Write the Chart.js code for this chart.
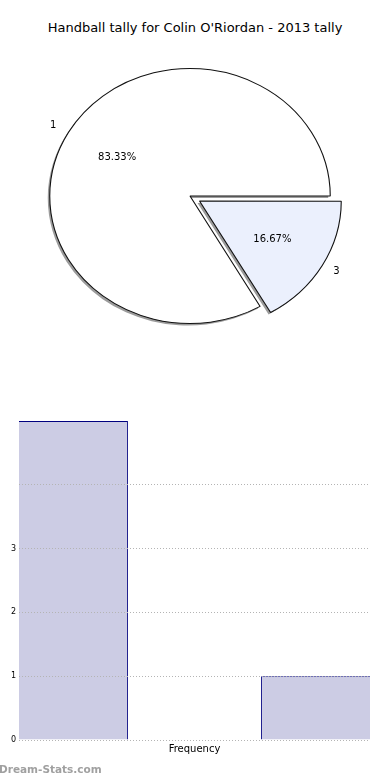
<!DOCTYPE html>
<html>
<head>
<meta charset="utf-8">
<script src="https://cdn.jsdelivr.net/npm/chart.js@4"></script>
<style>
  body { margin: 0; background: #fff; width: 390px; height: 780px; position: relative; overflow: hidden; font-family: "DejaVu Sans", sans-serif; }
  #title { position: absolute; top: 20px; left: 0; width: 390px; text-align: center; font-size: 13px; color: #000; }
  #pieBox { position: absolute; top: 0; left: 0; width: 390px; height: 360px; }
  #barBox { position: absolute; top: 400px; left: 0; width: 390px; height: 365px; }
  #mark { position: absolute; left: -1px; top: 763px; font-size: 10.5px; font-weight: bold; color: #a0a0a0; }
</style>
</head>
<body>
<div id="title">Handball tally for Colin O'Riordan - 2013 tally</div>
<div id="pieBox"><canvas id="pieCanvas"></canvas></div>
<div id="barBox"><canvas id="barCanvas"></canvas></div>
<div id="mark">Dream-Stats.com</div>
<script>
// tally values and how often each happened
const tallyValues = [1, 3];
const tallyCounts = [5, 1];
const sliceLabels = ["1", "3"];
const sliceColors = ["#ffffff", "#ebf0fd"];
const sliceOffsets = [0, 40];
const yTickLabels = ["0", "1", "2", "3", "", ""];

const barWidth = 0.9;
const stretchX = 1.1;
const font = "DejaVu Sans";
const total = tallyCounts.reduce((a, b) => a + b, 0);

// stretched pie, a flat grey shadow under it, matplotlib style labels
const pieDeco = {
  id: "pieDeco",
  beforeDatasetsDraw(chart) {
    const ctx = chart.ctx;
    const arcs = chart.getDatasetMeta(0).data;
    const cx = arcs[0].x, cy = arcs[0].y;
    // shadow pass
    ctx.save();
    ctx.translate(-2, 2);
    ctx.translate(cx, cy);
    ctx.scale(stretchX, 1);
    ctx.translate(-cx, -cy);
    arcs.forEach(arc => {
      const saved = arc.options;
      arc.options = Object.assign({}, saved, { backgroundColor: "#9c9c9c", borderWidth: 0 });
      arc.draw(ctx);
      arc.options = saved;
    });
    ctx.restore();
    // stretch for the real pie
    ctx.save();
    ctx.translate(cx, cy);
    ctx.scale(stretchX, 1);
    ctx.translate(-cx, -cy);
  },
  afterDatasetsDraw(chart) {
    const ctx = chart.ctx;
    ctx.restore();
    ctx.save();
    ctx.fillStyle = "#000";
    ctx.font = "10px " + font;
    ctx.textBaseline = "middle";
    chart.getDatasetMeta(0).data.forEach((arc, i) => {
      const mid = (arc.startAngle + arc.endAngle) / 2;
      const shift = (arc.options.offset || 0) / 4;
      const r = arc.outerRadius;
      const put = k => ({
        x: arc.x + Math.cos(mid) * (shift + k * r) * stretchX,
        y: arc.y + Math.sin(mid) * (shift + k * r)
      });
      const lp = put(1.1);
      ctx.textAlign = Math.cos(mid) > 0 ? "left" : "right";
      ctx.fillText(sliceLabels[i], lp.x, lp.y);
      const pp = put(0.6);
      ctx.textAlign = "center";
      ctx.fillText((tallyCounts[i] / total * 100).toFixed(2) + "%", pp.x, pp.y);
    });
    ctx.restore();
  }
};

new Chart(document.getElementById("pieCanvas"), {
  type: "pie",
  data: {
    labels: sliceLabels,
    datasets: [{
      data: tallyCounts,
      backgroundColor: sliceColors,
      borderColor: "#111",
      borderWidth: 1,
      offset: sliceOffsets,
      hoverOffset: 0,
      clip: false
    }]
  },
  options: {
    responsive: true,
    maintainAspectRatio: false,
    animation: false,
    events: [],
    rotation: 150,
    layout: { padding: { left: 42, right: 52, top: 48, bottom: 16 } },
    plugins: { legend: { display: false }, tooltip: { enabled: false } }
  },
  plugins: [pieDeco]
});

// outer edges of the first and last bar sit on the plot frame, no line there
const lastBar = tallyValues.length - 1;

new Chart(document.getElementById("barCanvas"), {
  type: "bar",
  data: {
    datasets: [{
      data: tallyValues.map((v, i) => ({ x: v, y: tallyCounts[i] })),
      backgroundColor: "#ccccE4",
      borderColor: "#00007f",
      borderWidth: c => ({
        top: 1,
        left: c.dataIndex === 0 ? 0 : 1,
        right: c.dataIndex === lastBar ? 0 : 1,
        bottom: 0
      }),
      borderSkipped: false,
      categoryPercentage: barWidth / 2,
      barPercentage: 1
    }]
  },
  options: {
    responsive: true,
    maintainAspectRatio: false,
    animation: false,
    events: [],
    layout: { padding: { left: 0, right: 20, top: 21, bottom: 0 } },
    plugins: { legend: { display: false }, tooltip: { enabled: false } },
    scales: {
      x: {
        type: "linear",
        offset: false,
        min: tallyValues[0] - barWidth / 2,
        max: tallyValues[lastBar] + barWidth / 2,
        afterBuildTicks: s => { s.ticks = tallyValues.map(v => ({ value: v })); },
        afterFit: s => { s.height = 25; },
        ticks: { display: false },
        grid: { display: false, offset: false },
        border: { display: false },
        title: {
          display: true,
          text: "Frequency",
          color: "#000",
          font: { family: font, size: 10 },
          padding: { top: 0, bottom: 10 }
        }
      },
      y: {
        min: 0,
        max: 5,
        afterFit: s => { s.width = 19; },
        ticks: {
          stepSize: 1,
          padding: 3,
          color: "#000",
          font: { family: font, size: 8 },
          callback: (v, i) => yTickLabels[i]
        },
        grid: {
          z: 1,
          drawTicks: false,
          lineWidth: 1,
          color: c => c.tick && c.tick.value < 5 ? "#b4b4b4" : "rgba(0,0,0,0)"
        },
        border: { display: false, dash: [1, 2] }
      }
    }
  }
});
</script>
</body>
</html>
